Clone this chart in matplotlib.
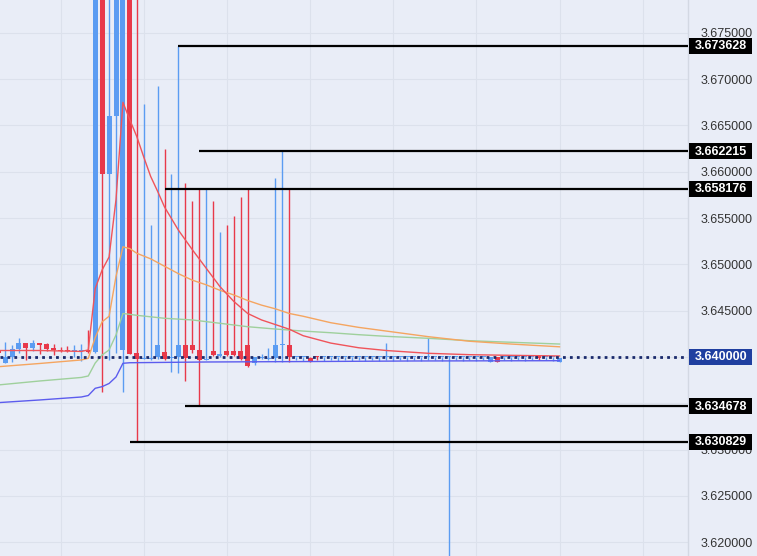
import numpy as np
import matplotlib.pyplot as plt
import matplotlib.transforms as mtransforms
from matplotlib.patches import Rectangle

plt.rcParams['font.family'] = ['Liberation Sans', 'DejaVu Sans']

# OHLC candles, left to right
opens = [3.6408, 3.6394, 3.6400, 3.6409, 3.6415, 3.6410, 3.6415, 3.6414, 3.6409, 3.6408,
         3.6407, 3.6406, 3.6406, 3.6408, 3.6405, 3.6950, 3.6598, 3.6660, 3.6408, 3.6900,
         3.6404, 3.6398, 3.6398, 3.6400, 3.6405, 3.6399, 3.6400, 3.6413, 3.6413, 3.6408,
         3.6397, 3.6406, 3.64015, 3.6406, 3.6406, 3.6406, 3.6413, 3.6394, 3.6399, 3.6398,
         3.6399, 3.6413, 3.6413, 3.63995, 3.63995, 3.6399, 3.6401, 3.63995, 3.63995, 3.63995,
         3.63995, 3.63995, 3.63995, 3.63995, 3.63995, 3.63995, 3.63995, 3.63995, 3.63995, 3.63995,
         3.63995, 3.63995, 3.6400, 3.63995, 3.63995, 3.63995, 3.63995, 3.63995, 3.63995, 3.63995,
         3.63995, 3.6395, 3.6400, 3.63995, 3.63995, 3.63995, 3.63995, 3.63995, 3.6401, 3.63995,
         3.63995, 3.6395]
highs = [3.6410, 3.6416, 3.6413, 3.6420, 3.6415, 3.6418, 3.6415, 3.6415, 3.6414, 3.6411,
         3.6412, 3.6413, 3.6414, 3.6429, 3.7000, 3.7000, 3.7000, 3.7000, 3.7000, 3.7000,
         3.7000, 3.6673, 3.6543, 3.6693, 3.6625, 3.6598, 3.673628, 3.6588, 3.6568, 3.6581,
         3.6582, 3.6568, 3.6535, 3.6543, 3.6552, 3.6573, 3.6582, 3.6400, 3.6403, 3.6410,
         3.6593, 3.662215, 3.6582, 3.6400, 3.6400, 3.6400, 3.6401, 3.6400, 3.6400, 3.6400,
         3.6400, 3.6400, 3.6400, 3.6400, 3.6400, 3.6400, 3.6415, 3.6401, 3.6400, 3.6400,
         3.6400, 3.6400, 3.6421, 3.6400, 3.6400, 3.6401, 3.6400, 3.6400, 3.6400, 3.6400,
         3.6400, 3.6400, 3.6400, 3.6400, 3.6400, 3.6400, 3.6400, 3.6400, 3.6401, 3.6400,
         3.6400, 3.6399]
lows = [3.6403, 3.6393, 3.6395, 3.6404, 3.6397, 3.6406, 3.6403, 3.6406, 3.6402, 3.6405,
        3.6405, 3.6400, 3.6396, 3.6404, 3.6404, 3.6362, 3.6397, 3.6404, 3.6362, 3.6403,
        3.630829, 3.6398, 3.6397, 3.6398, 3.6397, 3.6384, 3.6383, 3.6374, 3.6404, 3.634678,
        3.6397, 3.6401, 3.6400, 3.6401, 3.6401, 3.6397, 3.6389, 3.6391, 3.6398, 3.6397,
        3.6395, 3.6395, 3.6395, 3.6397, 3.6396, 3.6395, 3.6397, 3.6396, 3.6397, 3.6396,
        3.6397, 3.6396, 3.6397, 3.6396, 3.6397, 3.6396, 3.6397, 3.6396, 3.6397, 3.6396,
        3.6397, 3.6396, 3.6397, 3.6397, 3.6396, 3.6100, 3.6397, 3.6396, 3.6397, 3.6396,
        3.6397, 3.6395, 3.6395, 3.6397, 3.6396, 3.6397, 3.6396, 3.6397, 3.6397, 3.6397,
        3.6396, 3.6395]
closes = [3.6404, 3.6400, 3.6409, 3.6415, 3.6410, 3.6415, 3.6413, 3.6409, 3.6408, 3.6406,
          3.6406, 3.64065, 3.64065, 3.6405, 3.6950, 3.6598, 3.6660, 3.6900, 3.6900, 3.6403,
          3.63975, 3.6399, 3.63985, 3.6413, 3.6398, 3.63995, 3.6413, 3.6399, 3.6408, 3.6397,
          3.63975, 3.6402, 3.6402, 3.6402, 3.6402, 3.6398, 3.6390, 3.6400, 3.63995, 3.6399,
          3.6413, 3.64135, 3.6400, 3.6400, 3.6400, 3.6396, 3.6400, 3.6400, 3.6400, 3.6400,
          3.6400, 3.6400, 3.6400, 3.6400, 3.6400, 3.6400, 3.6400, 3.6400, 3.6400, 3.6400,
          3.6400, 3.6400, 3.64005, 3.6400, 3.6400, 3.6400, 3.6400, 3.6400, 3.6400, 3.6400,
          3.6400, 3.6400, 3.6395, 3.6400, 3.6400, 3.6400, 3.6400, 3.6400, 3.63985, 3.6400,
          3.6400, 3.6399]

# indicator lines, read at a few bars each
red_idx = [0, 6, 12, 13, 14, 15, 16, 17, 18, 19, 20, 21, 22, 23, 24, 26, 28, 30, 32, 34,
           36, 38, 40, 42, 44, 48, 52, 56, 62, 68, 74, 81]
red_val = [3.6407, 3.6407, 3.6406, 3.64076, 3.6474, 3.6494, 3.6508, 3.6570, 3.6675, 3.6656,
           3.6638, 3.6616, 3.6595, 3.6579, 3.6562, 3.6537, 3.6516, 3.6496, 3.6476, 3.6460,
           3.6447, 3.6440, 3.6435, 3.6430, 3.6423, 3.6415, 3.6410, 3.6407, 3.6404, 3.64025,
           3.64018, 3.64011]
orange_idx = [0, 6, 12, 13, 14, 15, 16, 17, 18, 19, 20, 22, 24, 26, 28, 30, 32, 34, 36, 38,
              40, 42, 44, 48, 52, 56, 62, 68, 74, 81]
orange_val = [3.63895, 3.6393, 3.63968, 3.63986, 3.6421, 3.6438, 3.6444, 3.6487, 3.6519, 3.6517,
              3.6512, 3.6506, 3.6498, 3.6490, 3.6483, 3.6478, 3.6472, 3.6467, 3.6461, 3.6456,
              3.6452, 3.6447, 3.6444, 3.6437, 3.6432, 3.6428, 3.6422, 3.6417, 3.6414, 3.6411]
green_idx = [0, 6, 12, 13, 14, 15, 16, 17, 18, 19, 20, 24, 28, 32, 36, 40, 44, 48, 52, 56,
             62, 68, 74, 81]
green_val = [3.63698, 3.63741, 3.63779, 3.63795, 3.63935, 3.64022, 3.64076, 3.64238, 3.6447, 3.6446,
             3.6445, 3.64418, 3.6440, 3.64364, 3.64327, 3.64302, 3.6428, 3.64262, 3.64241, 3.64223,
             3.64202, 3.64176, 3.64159, 3.6414]
purple_idx = [0, 6, 12, 13, 14, 15, 16, 17, 18, 19, 30, 45, 60, 81]
purple_val = [3.63507, 3.63536, 3.63568, 3.63584, 3.63662, 3.6368, 3.63714, 3.63784, 3.63932, 3.63938,
              3.63946, 3.63951, 3.63957, 3.6396]

# horizontal levels and the bar each one starts from
levels = [3.673628, 3.662215, 3.658176, 3.634678, 3.630829]
level_start = [26, 29, 24, 27, 19]
last_price = 3.640000

BG = '#E9EDF7'
BLUE = '#5B9CF2'
RED = '#E8394A'

fig = plt.figure(figsize=(7.57, 5.56), dpi=100)
fig.patch.set_facecolor(BG)
ax = fig.add_axes([0, 0, 688 / 757, 1])
ax.set_facecolor(BG)

ymin, ymax = 3.61851, 3.67855
xmin, xmax = 0.26, 99.54
ax.set_xlim(xmin, xmax)
ax.set_ylim(ymin, ymax)

o = np.array(opens)
h = np.array(highs)
l = np.array(lows)
c = np.array(closes)
x = np.arange(len(o))
cols = np.where(c >= o, BLUE, RED)

ax.vlines(x, l, h, colors=cols, lw=1.0, zorder=3)
ax.bar(x, np.maximum(np.abs(c - o), 0.00012), bottom=np.minimum(o, c), width=0.72,
       color=cols, linewidth=0, zorder=3)

ax.plot(purple_idx, purple_val, color='#5C5CEE', lw=1.0, zorder=4)
ax.plot(green_idx, green_val, color='#9FD09C', lw=1.0, zorder=4)
ax.plot(orange_idx, orange_val, color='#F5A560', lw=1.0, zorder=4)
ax.plot(red_idx, red_val, color='#F0545A', lw=1.0, zorder=4)

ax.axhline(last_price, color='#1A2A6C', lw=2.0, ls=(0, (1, 1.5)), zorder=5)
for lvl, s in zip(levels, level_start):
    ax.hlines(lvl, s, xmax, color='black', lw=1.6, zorder=6)

# axis styling
ax.yaxis.tick_right()
ax.set_yticks(np.arange(3.620, 3.6751, 0.005))
ax.yaxis.set_major_formatter(plt.FormatStrFormatter('%.6f'))
ax.tick_params(axis='y', length=0, pad=9, labelsize=9, labelcolor='#333333')
ax.set_xticks([9, 21, 33, 45, 57, 69, 81, 93])
ax.tick_params(axis='x', length=0, labelbottom=False)
ax.grid(True, color='#DCE1EC', lw=0.8)
ax.set_axisbelow(True)
for side in ['top', 'left', 'bottom']:
    ax.spines[side].set_visible(False)
ax.spines['right'].set_color('#D3D8E3')
ax.spines['right'].set_linewidth(1.0)

# price tags on the right scale
trans = mtransforms.blended_transform_factory(ax.transAxes, ax.transData)
px = (ymax - ymin) / 556
box_w = 63 / 688
box_h = 16 * px
tags = [(lvl, 'black') for lvl in levels] + [(last_price, '#1F3FA0')]
for lvl, fc in tags:
    ax.add_patch(Rectangle((1.002, lvl - box_h / 2), box_w, box_h, transform=trans,
                           facecolor=fc, edgecolor='none', clip_on=False, zorder=7))
    ax.text(1.002 + box_w / 2, lvl - 0.5 * px, '%.6f' % lvl, transform=trans,
            ha='center', va='center', color='white', fontsize=9, fontweight='bold',
            clip_on=False, zorder=8)

fig.savefig('out.png', dpi=100, facecolor=BG)
